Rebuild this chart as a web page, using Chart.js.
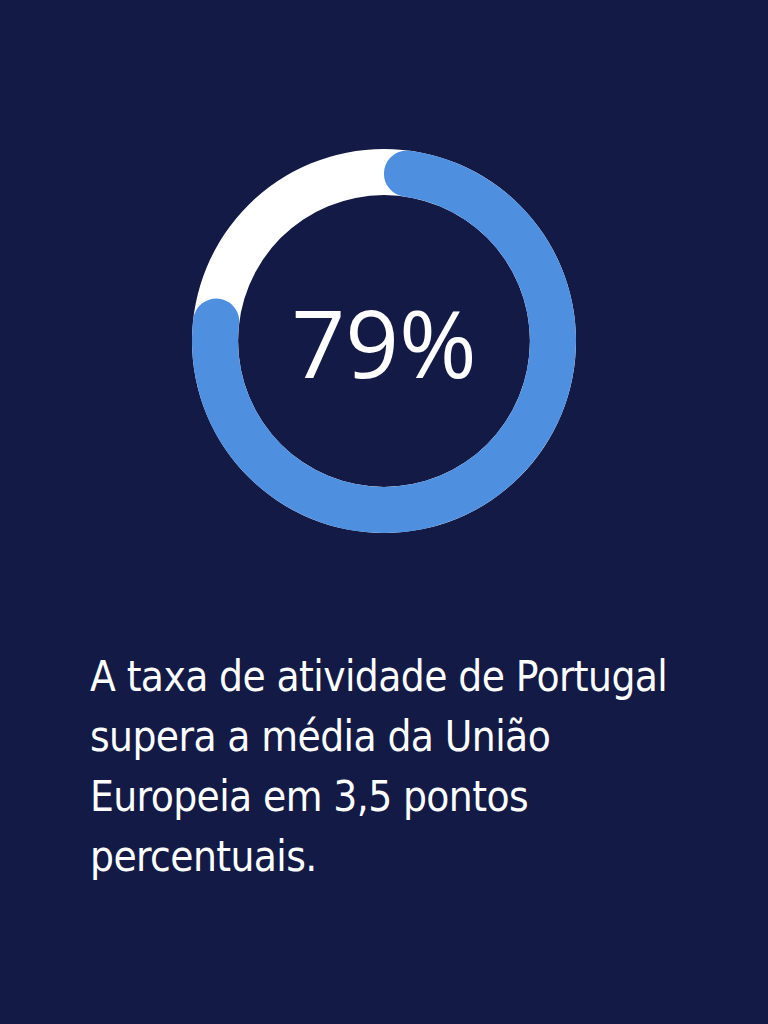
<!DOCTYPE html>
<html>
<head>
<meta charset="utf-8">
<script src="https://cdn.jsdelivr.net/npm/chart.js@4"></script>
<style>
  html, body { margin: 0; padding: 0; }
  body { width: 768px; height: 1024px; background: #121a45; position: relative; overflow: hidden; }
  .ring { position: absolute; left: 192px; top: 149px; width: 384px; height: 384px; }
  .center {
    position: absolute; left: 192px; top: 149px; width: 384px; height: 384px;
    display: flex; align-items: center; justify-content: center;
    color: #fff; font-family: "Open Sans", sans-serif; font-size: 94px; line-height: 1;
    padding-top: 2px; box-sizing: border-box;
  }
  .caption {
    position: absolute; left: 90px; top: 647px; width: 590px;
    color: #fff; font-family: "DejaVu Sans Condensed", "DejaVu Sans", sans-serif;
    font-stretch: condensed; font-size: 42px; line-height: 60px; letter-spacing: -0.6px;
  }
</style>
</head>
<body>
<div class="ring"><canvas id="bg"></canvas></div>
<div class="ring"><canvas id="fg"></canvas></div>
<div class="center" id="centerLabel"></div>
<div class="caption" id="caption"></div>

<script>
// valores
var labels = ['Taxa de atividade', 'Restante'];
var values = [79, 21];
var centerText = '79%';
var captionText = 'A taxa de atividade de Portugal supera a média da União Europeia em 3,5 pontos percentuais.';

document.getElementById('centerLabel').textContent = centerText;
document.getElementById('caption').textContent = captionText;

Chart.defaults.animation = false;

// anel branco de fundo
new Chart(document.getElementById('bg'), {
  type: 'doughnut',
  data: {
    labels: ['total'],
    datasets: [{ data: [values[0] + values[1]], backgroundColor: ['#ffffff'], borderWidth: 0 }]
  },
  options: {
    responsive: true, maintainAspectRatio: true, aspectRatio: 1,
    cutout: '76%',
    events: [],
    plugins: { legend: { display: false }, tooltip: { enabled: false } }
  }
});

// arco azul
new Chart(document.getElementById('fg'), {
  type: 'doughnut',
  data: {
    labels: labels,
    datasets: [{
      data: values,
      backgroundColor: ['#4f8fe0', 'rgba(0,0,0,0)'],
      borderWidth: 0,
      borderRadius: [23, 0]
    }]
  },
  options: {
    responsive: true, maintainAspectRatio: true, aspectRatio: 1,
    cutout: '76%',
    events: [],
    plugins: { legend: { display: false }, tooltip: { enabled: false } }
  }
});
</script>
</body>
</html>
